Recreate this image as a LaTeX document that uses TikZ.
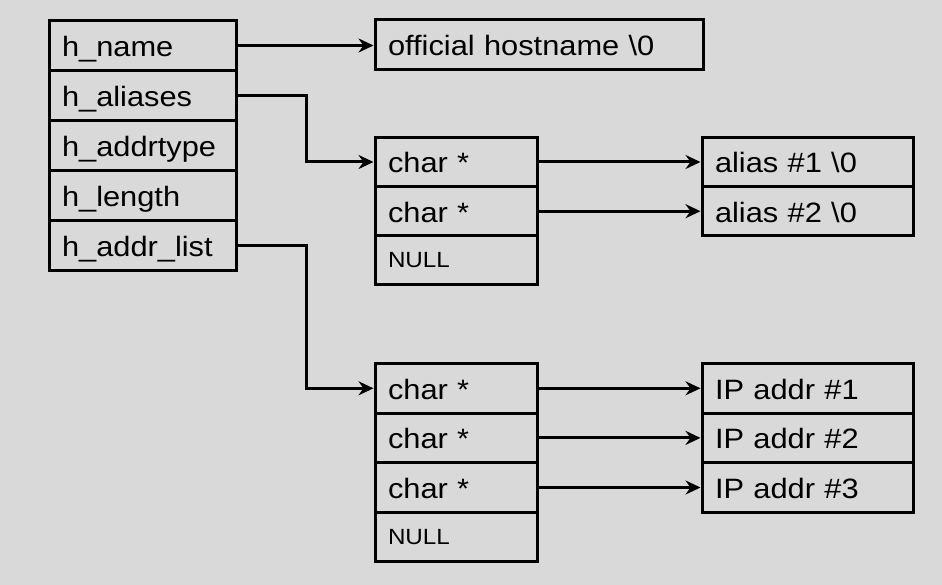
\documentclass[tikz,border=0pt]{standalone}
\usepackage{fontspec}
\newfontfamily\dfont[FakeStretch=1.1]{Liberation Sans}
\usetikzlibrary{arrows.meta}
\definecolor{bg}{RGB}{217,217,217}
\begin{document}
\begin{tikzpicture}[x=1pt,y=-1pt,
  cellbase/.style={draw=black, line width=3pt, inner xsep=13pt, inner ysep=0pt,
    text height=22pt, text depth=0pt, align=left,
    font=\dfont\fontsize{28}{30}\selectfont},
  lcell/.style={cellbase, text width=161pt, minimum height=50pt},
  hcell/.style={cellbase, text width=302pt, minimum height=50pt},
  acell/.style={cellbase, text width=136.5pt, minimum height=49.2pt},
  pcell/.style={cellbase, text width=136.5pt, minimum height=49.6pt},
  scell/.style={cellbase, text width=185pt, minimum height=49.2pt},
  qcell/.style={cellbase, text width=185pt, minimum height=49.6pt},
  nullcell/.style={text height=15pt, font=\dfont\fontsize{22}{24}\selectfont},
  arr/.style={draw=black, line width=3pt, -{Stealth[length=15pt,width=14pt,inset=5pt]}}
]
\fill[bg] (0,0) rectangle (942,585);
\useasboundingbox (0,0) rectangle (942,585);

% hostent structure
\node[lcell] (hname)  at (142.5,45.5)  {h\_name};
\node[lcell] (halias) at (142.5,95.5)  {h\_aliases};
\node[lcell] (htype)  at (142.5,145.5) {h\_addrtype};
\node[lcell] (hlen)   at (142.5,195.5) {h\_length};
\node[lcell] (hlist)  at (142.5,245.5) {h\_addr\_list};

% official hostname
\node[hcell] (host) at (539,45) {official hostname \textbackslash 0};

% alias pointer array
\node[acell] (a1) at (456.25,162)   {char *};
\node[acell] (a2) at (456.25,211.2) {char *};
\node[acell,nullcell] (a3) at (456.25,260.4) {NULL};

% alias strings
\node[scell] (s1) at (807.5,162)   {alias \#1 \textbackslash 0};
\node[scell] (s2) at (807.5,211.2) {alias \#2 \textbackslash 0};

% address pointer array
\node[pcell] (p1) at (456.25,388.3) {char *};
\node[pcell] (p2) at (456.25,437.9) {char *};
\node[pcell] (p3) at (456.25,487.5) {char *};
\node[pcell,nullcell] (p4) at (456.25,537.1) {NULL};

% addresses
\node[qcell] (ip1) at (807.5,388.3) {IP addr \#1};
\node[qcell] (ip2) at (807.5,437.9) {IP addr \#2};
\node[qcell] (ip3) at (807.5,487.5) {IP addr \#3};

% connectors
\draw[arr] (hname.east) -- (hname.east -| host.west);
\draw[arr] (halias.east) -- ++(69,0) |- (a1.west);
\draw[arr] (hlist.east) -- ++(69,0) |- (p1.west);
\draw[arr] (a1.east) -- (s1.west);
\draw[arr] (a2.east) -- (s2.west);
\draw[arr] (p1.east) -- (ip1.west);
\draw[arr] (p2.east) -- (ip2.west);
\draw[arr] (p3.east) -- (ip3.west);
\end{tikzpicture}
\end{document}
